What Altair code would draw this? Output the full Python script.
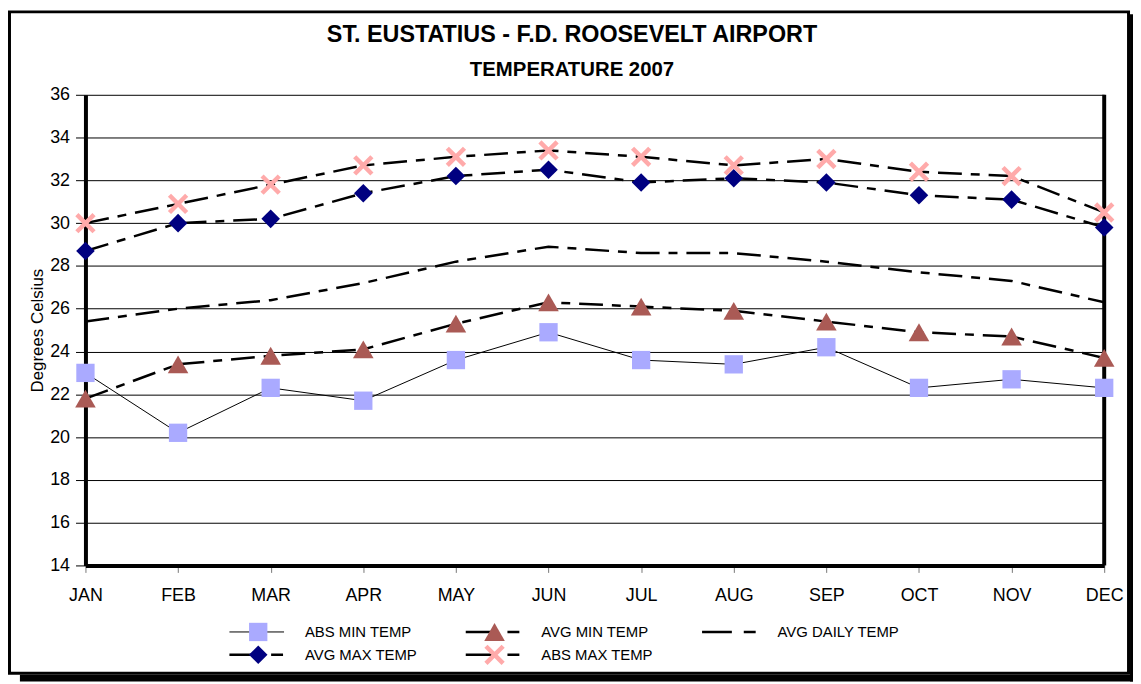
import altair as alt
import pandas as pd

# ---------------- data ----------------
months = ["JAN", "FEB", "MAR", "APR", "MAY", "JUN",
          "JUL", "AUG", "SEP", "OCT", "NOV", "DEC"]
abs_min = [23.0, 20.2, 22.3, 21.7, 23.6, 24.9, 23.6, 23.4, 24.2, 22.3, 22.7, 22.3]
avg_min = [21.8, 23.4, 23.8, 24.1, 25.3, 26.3, 26.1, 25.9, 25.4, 24.9, 24.7, 23.7]
avg_daily = [25.4, 26.0, 26.4, 27.2, 28.2, 28.9, 28.6, 28.6, 28.2, 27.7, 27.3, 26.3]
avg_max = [28.7, 30.0, 30.2, 31.4, 32.2, 32.5, 31.9, 32.1, 31.9, 31.3, 31.1, 29.8]
abs_max = [30.0, 30.9, 31.8, 32.7, 33.1, 33.4, 33.1, 32.7, 33.0, 32.4, 32.2, 30.5]

series_names = ["ABS MIN TEMP", "AVG MIN TEMP", "AVG DAILY TEMP", "AVG MAX TEMP", "ABS MAX TEMP"]
y_ticks = [14, 16, 18, 20, 22, 24, 26, 28, 30, 32, 34, 36]

legend_names = ["ABS MIN TEMP", "AVG MIN TEMP", "AVG DAILY TEMP", "AVG MAX TEMP", "ABS MAX TEMP"]
legend_col = [0, 1, 2, 0, 1]
legend_row = [0, 0, 0, 1, 1]

title_text = "ST. EUSTATIUS - F.D. ROOSEVELT AIRPORT"
subtitle_text = "TEMPERATURE 2007"
y_title = "Degrees Celsius"

# ---------------- tables ----------------
values_by_series = [abs_min, avg_min, avg_daily, avg_max, abs_max]
rows = []
for name, vals in zip(series_names, values_by_series):
    for m, v in zip(months, vals):
        rows.append({"month": m, "series": name, "value": v})
df = pd.DataFrame(rows)
df_leg = pd.DataFrame({"series": legend_names, "col": legend_col, "row": legend_row})

# ---------------- style ----------------
W, H = 1026, 474
FONT = "Liberation Sans"
DASH = [24, 9, 9, 9]
LEG_DASH = [30, 12, 12]
XPATH = "M-1,-1L1,1M-1,1L1,-1"

marker_style = {
    "ABS MIN TEMP": dict(shape="square", filled=True, color="#AAAAFF", size=340, opacity=1),
    "AVG MIN TEMP": dict(shape="triangle-up", filled=True, color="#AA5A55", size=430, opacity=1),
    "AVG MAX TEMP": dict(shape="diamond", filled=True, color="#000080", size=350, opacity=1),
    "ABS MAX TEMP": dict(shape=XPATH, filled=False, color="#FFAAAA", size=300,
                         strokeWidth=4.5, opacity=1),
}

x_axis = alt.Axis(title=None, labelAngle=0, grid=False, domainColor="black", domainWidth=4,
                  tickColor="#777777", tickSize=7, tickWidth=1, labelFont=FONT,
                  labelFontSize=18, labelColor="black", labelPadding=14)
y_axis = alt.Axis(values=y_ticks, grid=True, gridColor="black", gridWidth=1,
                  domainColor="black", domainWidth=4, tickColor="black", tickSize=10,
                  tickWidth=1, labelFont=FONT, labelFontSize=18, labelColor="black",
                  labelPadding=6, title=y_title, titleFont=FONT, titleFontSize=17,
                  titleFontWeight="normal", titleColor="black", titlePadding=3)

x_scale = alt.Scale(type="point", domain=months, padding=0)
y_scale = alt.Scale(domain=[14, 36], nice=False, zero=False)

base = alt.Chart(df)


def enc(chart, with_axis=False):
    return chart.encode(
        x=alt.X("month:O", scale=x_scale, axis=x_axis if with_axis else None),
        y=alt.Y("value:Q", scale=y_scale, axis=y_axis if with_axis else None),
    )


layers = []

# frame & shadow around whole chart
one = alt.Chart(alt.Data(values=[{}]))
layers.append(one.mark_rect(color="black").encode(
    x=alt.value(-66), x2=alt.value(1055), y=alt.value(584), y2=alt.value(591)))
layers.append(one.mark_rect(color="black").encode(
    x=alt.value(1052), x2=alt.value(1055), y=alt.value(-81), y2=alt.value(591)))
layers.append(one.mark_rect(fill="white", fillOpacity=0, stroke="black", strokeWidth=3).encode(
    x=alt.value(-76.5), x2=alt.value(1050.5), y=alt.value(-83.5), y2=alt.value(582.5)))

# titles
layers.append(one.mark_text(text=title_text, font=FONT, fontSize=23.5, fontWeight="bold",
                            align="center", baseline="middle", color="black").encode(
    x=alt.value(490), y=alt.value(-60)))
layers.append(one.mark_text(text=subtitle_text, font=FONT, fontSize=20.5, fontWeight="bold",
                            align="center", baseline="middle", color="black").encode(
    x=alt.value(490), y=alt.value(-25)))

# axes carrier (first data layer) : ABS MIN thin solid line
layers.append(enc(base.transform_filter(alt.datum.series == "ABS MIN TEMP")
                  .mark_line(color="black", strokeWidth=1), with_axis=True))

# right thick border of plot
layers.append(one.mark_rule(color="black", strokeWidth=4).encode(
    x=alt.value(W), y=alt.value(0), y2=alt.value(H)))

for name in ["AVG MIN TEMP", "AVG DAILY TEMP", "AVG MAX TEMP", "ABS MAX TEMP"]:
    layers.append(enc(base.transform_filter(alt.datum.series == name)
                      .mark_line(color="black", strokeWidth=2.5, strokeDash=DASH)))

for name in ["ABS MIN TEMP", "AVG MIN TEMP", "AVG MAX TEMP", "ABS MAX TEMP"]:
    layers.append(enc(base.transform_filter(alt.datum.series == name)
                      .mark_point(**marker_style[name])))

# ---------------- legend ----------------
lx = alt.X("col:Q", scale=alt.Scale(domain=[0, 2], range=[145, 621]), axis=None)
ly = alt.Y("row:Q", scale=alt.Scale(domain=[0, 1], range=[541, 564]), axis=None)
leg = alt.Chart(df_leg)

layers.append(leg.transform_filter(alt.datum.series == "ABS MIN TEMP")
              .mark_rule(color="black", strokeWidth=1, x2Offset=55)
              .encode(x=lx, x2="col:Q", y=ly))
layers.append(leg.transform_filter(alt.datum.series != "ABS MIN TEMP")
              .mark_rule(color="black", strokeWidth=2.5, strokeDash=LEG_DASH, x2Offset=55)
              .encode(x=lx, x2="col:Q", y=ly))
for name in ["ABS MIN TEMP", "AVG MIN TEMP", "AVG MAX TEMP", "ABS MAX TEMP"]:
    layers.append(leg.transform_filter(alt.datum.series == name)
                  .mark_point(xOffset=29, **marker_style[name]).encode(x=lx, y=ly))
layers.append(leg.mark_text(align="left", baseline="middle", dx=76, font=FONT,
                            fontSize=15, color="black")
              .encode(x=lx, y=ly, text="series:N"))

chart = (
    alt.layer(*layers)
    .resolve_scale(x="independent", y="independent")
    .properties(width=W, height=H, padding=0, background="white")
    .configure_view(stroke=None)
)

chart.save("out.html", embed_options={"renderer": "svg", "actions": False})
